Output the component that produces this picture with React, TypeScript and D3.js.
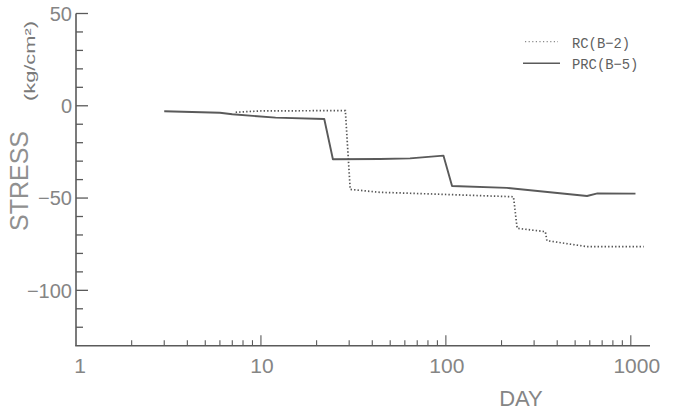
import React, { useRef, useEffect } from 'react';
import * as d3 from 'd3';

// RC(B-2) dotted series
const rcDays = [7.3, 10, 28.6, 30.4, 44, 64, 232, 243, 345, 352, 580, 1175];
const rcStress = [-3.5, -2.8, -2.6, -45.3, -46.9, -47.4, -49.3, -66.4, -68.2, -73.1, -76.3, -76.3];

// PRC(B-5) solid series
const prcDays = [3, 6, 7, 12, 22, 24.5, 44, 64, 97, 108, 214, 580, 660, 1060];
const prcStress = [-3, -3.8, -4.6, -6.4, -7.2, -29, -28.8, -28.5, -27, -43.5, -44.5, -48.9, -47.5, -47.6];

const xTickLabels = [1, 10, 100, 1000];
const yTickLabels = [50, 0, -50, -100];
const legendLabels = ['RC(B\u22122)', 'PRC(B\u22125)'];

const W = 675;
const H = 413;
const lineColor = '#5a5a5a';
const textColor = '#858585';

const App = () => {
  const ref = useRef(null);

  useEffect(() => {
    if (!ref.current) return;
    const svg = d3.select(ref.current);
    svg.selectAll('*').remove();

    const x = d3.scaleLog().domain([1, 1270]).range([76, 650]);
    const y = d3.scaleLinear().domain([-130, 50]).range([345.7, 13.5]);

    // axes lines
    svg.append('line')
      .attr('x1', x(1)).attr('x2', x(1))
      .attr('y1', y(50)).attr('y2', y(-130))
      .attr('stroke', lineColor).attr('stroke-width', 1.6);
    svg.append('line')
      .attr('x1', x(1) - 0.8).attr('x2', x(1270))
      .attr('y1', y(-130)).attr('y2', y(-130))
      .attr('stroke', lineColor).attr('stroke-width', 1.6);

    // y ticks, every 10
    const yTicks = d3.range(50, -130, -10);
    svg.append('g').selectAll('line')
      .data(yTicks)
      .join('line')
      .attr('x1', x(1))
      .attr('x2', (d) => x(1) + (d % 50 === 0 ? 12 : 7))
      .attr('y1', (d) => y(d))
      .attr('y2', (d) => y(d))
      .attr('stroke', lineColor)
      .attr('stroke-width', 1.3);

    svg.append('g').selectAll('text')
      .data(yTickLabels)
      .join('text')
      .attr('x', 72)
      .attr('y', (d) => y(d))
      .attr('dy', '0.36em')
      .attr('text-anchor', 'end')
      .attr('font-family', 'Liberation Sans, Arial, sans-serif')
      .attr('font-size', 20)
      .attr('fill', textColor)
      .text((d) => (d < 0 ? '\u2212' + Math.abs(d) : String(d)));

    // x ticks (log)
    const xTicks = x.ticks().filter((d) => d > 1);
    svg.append('g').selectAll('line')
      .data(xTicks)
      .join('line')
      .attr('x1', (d) => x(d))
      .attr('x2', (d) => x(d))
      .attr('y1', y(-130))
      .attr('y2', (d) => y(-130) - (xTickLabels.includes(d) ? 10.5 : 5.5))
      .attr('stroke', lineColor)
      .attr('stroke-width', 1.1);

    svg.append('g').selectAll('text')
      .data(xTickLabels)
      .join('text')
      .attr('x', (d) => x(d) + (d === 1000 ? 6 : d === 1 ? 4 : 1))
      .attr('y', 373)
      .attr('text-anchor', 'middle')
      .attr('font-family', 'Liberation Sans, Arial, sans-serif')
      .attr('font-size', 21)
      .attr('fill', textColor)
      .text((d) => String(d));

    // axis titles
    svg.append('text')
      .attr('transform', 'translate(28,181) rotate(-90)')
      .attr('text-anchor', 'middle')
      .attr('font-family', 'Liberation Sans, Arial, sans-serif')
      .attr('font-size', 25)
      .attr('fill', '#909090')
      .text('STRESS');

    svg.append('text')
      .attr('transform', 'translate(34.5,61) rotate(-90)')
      .attr('text-anchor', 'middle')
      .attr('font-family', 'Liberation Sans, Arial, sans-serif')
      .attr('font-size', 15)
      .attr('textLength', 80)
      .attr('lengthAdjust', 'spacingAndGlyphs')
      .attr('fill', '#7a7a7a')
      .text('(kg/cm\u00b2)');

    svg.append('text')
      .attr('x', 521)
      .attr('y', 406)
      .attr('text-anchor', 'middle')
      .attr('font-family', 'Liberation Sans, Arial, sans-serif')
      .attr('font-size', 22)
      .attr('fill', textColor)
      .text('DAY');

    // series
    const line = d3.line<[number, number]>()
      .x((d) => x(d[0]))
      .y((d) => y(d[1]));

    const rcPts = rcDays.map((d, i) => [d, rcStress[i]] as [number, number]);
    const prcPts = prcDays.map((d, i) => [d, prcStress[i]] as [number, number]);

    svg.append('path')
      .attr('d', line(rcPts))
      .attr('fill', 'none')
      .attr('stroke', '#555')
      .attr('stroke-width', 1.7)
      .attr('stroke-dasharray', '1.4 2.1');

    svg.append('path')
      .attr('d', line(prcPts))
      .attr('fill', 'none')
      .attr('stroke', lineColor)
      .attr('stroke-width', 1.9)
      .attr('stroke-linejoin', 'round');

    // legend
    const legend = svg.append('g');
    legend.append('line')
      .attr('x1', 525).attr('x2', 558).attr('y1', 41.7).attr('y2', 41.7)
      .attr('stroke', '#8a8a8a').attr('stroke-width', 1.3)
      .attr('stroke-dasharray', '1.2 2.4');
    legend.append('line')
      .attr('x1', 523).attr('x2', 560).attr('y1', 63.3).attr('y2', 63.3)
      .attr('stroke', lineColor).attr('stroke-width', 1.5);
    legend.selectAll('text')
      .data(legendLabels)
      .join('text')
      .attr('x', 572)
      .attr('y', (d, i) => 47.5 + i * 21.5)
      .attr('font-family', 'Liberation Mono, DejaVu Sans Mono, monospace')
      .attr('font-size', 15)
      .attr('textLength', (d) => d.length * 8.3)
      .attr('lengthAdjust', 'spacingAndGlyphs')
      .attr('fill', '#5f5f5f')
      .text((d) => d);
  }, []);

  return (
    <svg
      ref={ref}
      width={W}
      height={H}
      style={{ position: 'absolute', left: 0, top: 0, background: '#fff' }}
    />
  );
};

export default App;
